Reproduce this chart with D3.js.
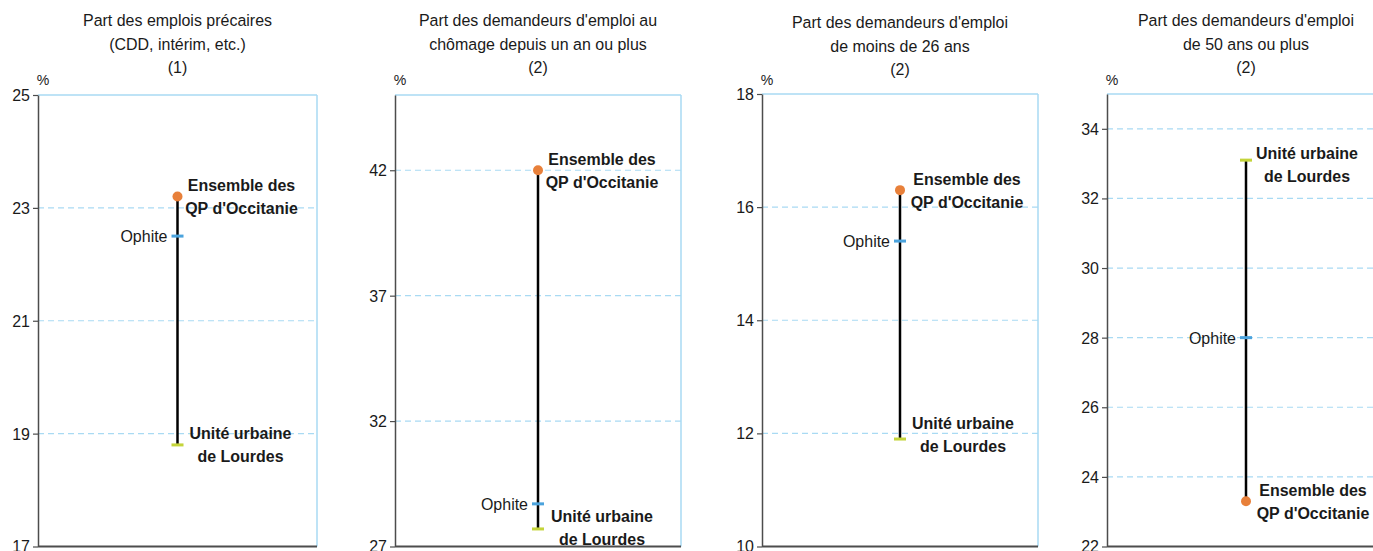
<!DOCTYPE html>
<html>
<head>
<meta charset="utf-8">
<script src="https://cdn.jsdelivr.net/npm/d3@7"></script>
<style>
  html, body { margin: 0; padding: 0; background: #fff; }
  svg { display: block; font-family: "Liberation Sans", Arial, Helvetica, sans-serif; }
</style>
</head>
<body>
<svg id="chart" width="1373" height="551"></svg>
<script>
// ---- Data ----
const panelTitles = [
  ["Part des emplois précaires", "(CDD, intérim, etc.)", "(1)"],
  ["Part des demandeurs d'emploi au", "chômage depuis un an ou plus", "(2)"],
  ["Part des demandeurs d'emploi", "de moins de 26 ans", "(2)"],
  ["Part des demandeurs d'emploi", "de 50 ans ou plus", "(2)"]
];
const seriesNames = ["Ensemble des QP d'Occitanie", "Ophite", "Unité urbaine de Lourdes"];
const ensembleLabel = ["Ensemble des", "QP d'Occitanie"];
const lourdesLabel = ["Unité urbaine", "de Lourdes"];
const ensembleValues = [23.2, 42.0, 16.3, 23.3];
const ophiteValues   = [22.5, 28.7, 15.4, 28.0];
const lourdesValues  = [18.8, 27.7, 11.9, 33.1];
const yMinValues = [17, 27, 10, 22];
const yMaxValues = [25, 45, 18, 35];
const tickValues = [
  [17, 19, 21, 23, 25],
  [27, 32, 37, 42],
  [10, 12, 14, 16, 18],
  [22, 24, 26, 28, 30, 32, 34]
];
const unitLabel = "%";

// ---- Layout (not data) ----
const layout = [
  { left: 38,   width: 279, top: 95, titleDy: 0, ensDx: 64, ensDy: 0,  lrdDx: 63, lrdDy: 0 },
  { left: 395,  width: 286, top: 95, titleDy: 0, ensDx: 64, ensDy: 0,  lrdDx: 64, lrdDy: -1 },
  { left: 762,  width: 276, top: 94, titleDy: 2, ensDx: 67, ensDy: 0,  lrdDx: 63, lrdDy: -4 },
  { left: 1107, width: 278, top: 94, titleDy: 0, ensDx: 67, ensDy: 0,  lrdDx: 61, lrdDy: 4 }
];
const bottom = 546.5;
const FS = 17, SX = 0.94;
const colors = {
  ensemble: "#e8803a",
  ophite: "#4ba3dd",
  lourdes: "#c4d43a",
  grid: "#a9daf3",
  frame: "#a9daf3",
  axis: "#4d4d4d",
  text: "#1a1a1a"
};

const svg = d3.select("#chart");

function addText(g, x, y, lines, opts) {
  const o = Object.assign({ anchor: "middle", size: FS, weight: "normal", lh: 23, dy0: 0 }, opts || {});
  const t = g.append("text")
    .attr("transform", `translate(${x},${y}) scale(${SX},1)`)
    .attr("text-anchor", o.anchor)
    .attr("font-size", o.size)
    .attr("font-weight", o.weight)
    .attr("fill", colors.text);
  lines.forEach((line, k) => {
    t.append("tspan").attr("x", 0).attr("y", o.dy0 + k * o.lh).attr("dy", "0.35em").text(line);
  });
  return t;
}

panelTitles.forEach((title, i) => {
  const L = layout[i];
  const g = svg.append("g");
  const x0 = L.left, x1 = L.left + L.width;
  const cx = (x0 + x1) / 2;
  const y = d3.scaleLinear().domain([yMinValues[i], yMaxValues[i]]).range([bottom, L.top]);

  // title
  addText(g, cx, 20.5 + L.titleDy, title, { lh: 23.5 });

  // unit label
  addText(g, x0 + 5, 80, [unitLabel], { size: 15 });

  // gridlines (interior ticks)
  const ticks = tickValues[i];
  g.selectAll("line.grid")
    .data(ticks.filter(v => v > yMinValues[i] && v < yMaxValues[i]))
    .join("line")
    .attr("class", "grid")
    .attr("x1", x0).attr("x2", x1)
    .attr("y1", d => y(d)).attr("y2", d => y(d))
    .attr("stroke", colors.grid).attr("stroke-width", 1.2)
    .attr("stroke-dasharray", "6,4");

  // top and right frame
  g.append("line").attr("x1", x0).attr("x2", x1)
    .attr("y1", y(yMaxValues[i])).attr("y2", y(yMaxValues[i]))
    .attr("stroke", colors.frame).attr("stroke-width", 1.5);
  g.append("line").attr("x1", x1).attr("x2", x1)
    .attr("y1", y(yMaxValues[i])).attr("y2", bottom)
    .attr("stroke", colors.frame).attr("stroke-width", 1.5);

  // bottom axis line
  g.append("line").attr("x1", x0).attr("x2", x1)
    .attr("y1", bottom).attr("y2", bottom)
    .attr("stroke", colors.axis).attr("stroke-width", 2);

  // y axis
  const axis = d3.axisLeft(y).tickValues(ticks).tickSize(5).tickPadding(3).tickSizeOuter(0);
  const ag = g.append("g").attr("transform", `translate(${x0},0)`).call(axis);
  ag.select(".domain").attr("stroke", colors.axis).attr("stroke-width", 1.5);
  ag.selectAll(".tick line").attr("stroke", colors.axis).attr("stroke-width", 1.2);
  ag.selectAll(".tick text")
    .attr("font-family", "Liberation Sans, Arial, sans-serif")
    .attr("font-size", FS).attr("fill", colors.text)
    .attr("transform", `translate(-8,0) scale(${SX},1)`)
    .attr("x", 0);

  // range line
  const vals = [ensembleValues[i], ophiteValues[i], lourdesValues[i]];
  g.append("line")
    .attr("x1", cx).attr("x2", cx)
    .attr("y1", y(d3.min(vals))).attr("y2", y(d3.max(vals)))
    .attr("stroke", "#000").attr("stroke-width", 2.5);

  // markers
  g.append("rect").attr("x", cx - 6).attr("y", y(lourdesValues[i]) - 1.5)
    .attr("width", 12).attr("height", 3).attr("fill", colors.lourdes);
  g.append("rect").attr("x", cx - 6).attr("y", y(ophiteValues[i]) - 1.5)
    .attr("width", 12).attr("height", 3).attr("fill", colors.ophite);
  g.append("circle").attr("cx", cx).attr("cy", y(ensembleValues[i]))
    .attr("r", 5).attr("fill", colors.ensemble);

  // labels
  addText(g, cx - 10, y(ophiteValues[i]), [seriesNames[1]], { anchor: "end" });
  addText(g, cx + L.ensDx, y(ensembleValues[i]) - 11.5 + L.ensDy, ensembleLabel, { weight: "bold" });
  addText(g, cx + L.lrdDx, y(lourdesValues[i]) - 11.5 + L.lrdDy, lourdesLabel, { weight: "bold" });
});
</script>
</body>
</html>
